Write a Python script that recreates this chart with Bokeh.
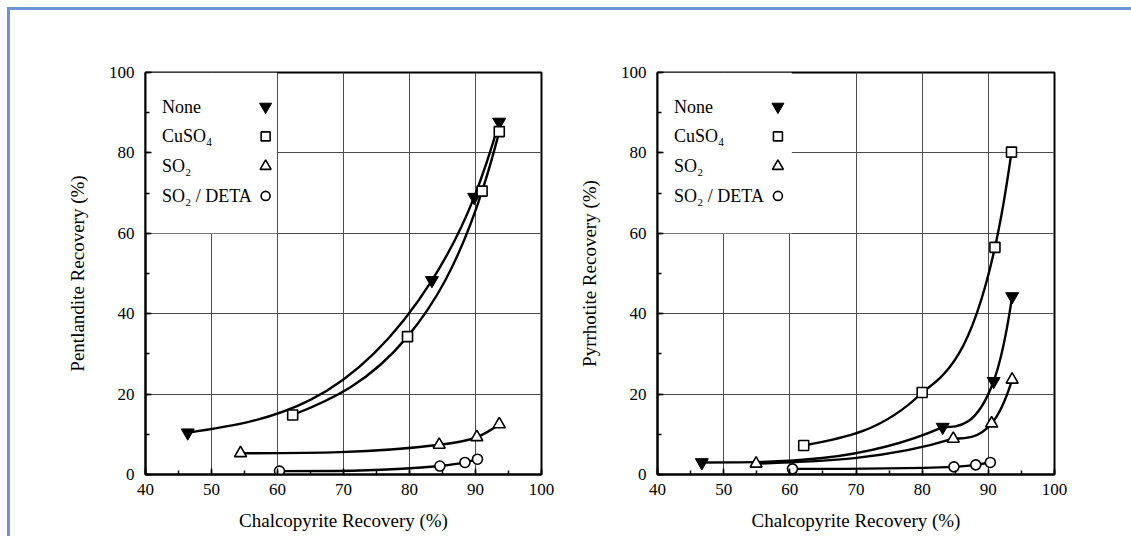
import math
from bokeh.plotting import figure
from bokeh.models import Range1d, SingleIntervalTicker, Row
from bokeh.core.properties import value
from bokeh.embed import file_html
from bokeh.resources import INLINE

# ---------------- data ----------------
series_names = ["None", "CuSO₄", "SO₂", "SO₂ / DETA"]
series_markers = ["inverted_triangle", "square", "triangle", "circle"]

# Pentlandite (left panel)
pn_none_x = [46.4, 83.4, 89.8, 93.6]
pn_none_y = [10.4, 48.3, 69.0, 87.7]
pn_cu_x = [62.3, 79.7, 91.0, 93.6]
pn_cu_y = [14.8, 34.3, 70.5, 85.3]
pn_so2_x = [54.4, 84.5, 90.2, 93.6]
pn_so2_y = [5.3, 7.4, 9.3, 12.5]
pn_deta_x = [60.3, 84.6, 88.4, 90.3]
pn_deta_y = [0.85, 2.1, 3.0, 3.8]

# Pyrrhotite (right panel)
po_none_x = [46.7, 83.1, 90.8, 93.6]
po_none_y = [3.0, 11.8, 23.2, 44.3]
po_cu_x = [62.1, 80.0, 91.0, 93.5]
po_cu_y = [7.2, 20.4, 56.5, 80.2]
po_so2_x = [54.9, 84.7, 90.5, 93.6]
po_so2_y = [2.7, 8.9, 12.7, 23.6]
po_deta_x = [60.4, 84.8, 88.1, 90.3]
po_deta_y = [1.4, 1.9, 2.4, 3.0]

x_label = "Chalcopyrite Recovery (%)"
y_label_left = "Pentlandite Recovery (%)"
y_label_right = "Pyrrhotite Recovery (%)"

SERIF = "Liberation Serif"


def smooth_segments(xs, ys):
    """Cubic Bezier pieces through the data points (only the drawn line's shape)."""
    n = len(xs)
    ly = [math.log(v) for v in ys]
    h = [xs[i + 1] - xs[i] for i in range(n - 1)]
    d = [(ys[i + 1] - ys[i]) / h[i] for i in range(n - 1)]
    dl = [(ly[i + 1] - ly[i]) / h[i] for i in range(n - 1)]
    ml = [0.0] * n
    for i in range(1, n - 1):
        ml[i] = (h[i] * dl[i - 1] + h[i - 1] * dl[i]) / (h[i - 1] + h[i])
    ml[0] = (3 * dl[0] - ml[1]) / 2
    ml[-1] = (3 * dl[-1] - ml[-2]) / 2
    m = [ml[i] * ys[i] for i in range(n)]
    m[0] = max(m[0], 0.2 * d[0])
    m[-1] = max(m[-1], d[-1])
    seg = dict(x0=[], y0=[], x1=[], y1=[], cx0=[], cy0=[], cx1=[], cy1=[])
    for i in range(n - 1):
        a, b = m[i], m[i + 1]
        if 2 * a + b > 3 * d[i]:
            a = max((3 * d[i] - b) / 2, 0.0)
            if 2 * a + b > 3 * d[i]:
                b = 3 * d[i] - 2 * a
        seg["x0"].append(xs[i]); seg["y0"].append(ys[i])
        seg["x1"].append(xs[i + 1]); seg["y1"].append(ys[i + 1])
        seg["cx0"].append(xs[i] + h[i] / 3); seg["cy0"].append(ys[i] + a * h[i] / 3)
        seg["cx1"].append(xs[i + 1] - h[i] / 3); seg["cy1"].append(ys[i + 1] - b * h[i] / 3)
    return seg


def marker_style(marker):
    if marker == "inverted_triangle":
        return dict(size=13, fill_color="black", line_color="black", line_width=1)
    if marker == "triangle":
        return dict(size=12, fill_color="white", line_color="black", line_width=1.6)
    return dict(size=10, fill_color="white", line_color="black", line_width=1.6)


def make_panel(series, ylabel, mask_right, border_left, border_right, frame_w):
    p = figure(frame_width=frame_w, frame_height=402,
               min_border_left=border_left, min_border_right=border_right,
               min_border_top=62, min_border_bottom=62,
               x_range=Range1d(40, 100), y_range=Range1d(0, 100),
               output_backend="svg", toolbar_location=None,
               background_fill_color="white", border_fill_color="white")
    p.outline_line_color = "black"
    p.outline_line_width = 2

    p.xaxis.ticker = SingleIntervalTicker(interval=10, num_minor_ticks=2)
    p.yaxis.ticker = SingleIntervalTicker(interval=20, num_minor_ticks=2)
    for ax in (p.xaxis[0], p.yaxis[0]):
        ax.axis_line_color = "black"
        ax.axis_line_width = 2
        ax.major_tick_in = 6
        ax.major_tick_out = 0
        ax.minor_tick_in = 4
        ax.minor_tick_out = 0
        ax.major_tick_line_color = "black"
        ax.major_tick_line_width = 1.5
        ax.minor_tick_line_color = "black"
        ax.minor_tick_line_width = 1.5
        ax.major_label_text_font = SERIF
        ax.major_label_text_font_size = "17px"
        ax.major_label_text_color = "black"
        ax.axis_label_text_font = SERIF
        ax.axis_label_text_font_size = "19px"
        ax.axis_label_text_font_style = "normal"
        ax.axis_label_text_color = "black"
    p.xaxis.axis_label = x_label
    p.yaxis.axis_label = ylabel
    p.xaxis.major_label_standoff = 9
    p.xaxis.axis_label_standoff = 12
    p.yaxis.major_label_standoff = 11
    p.yaxis.axis_label_standoff = 18

    p.grid.grid_line_color = "#4d4d4d"
    p.grid.grid_line_width = 1

    # white key box hiding the grid behind the key
    p.quad(left=[40], right=[mask_right], bottom=[60], top=[100],
           fill_color="white", line_color=None)

    for (xs, ys), marker in zip(series, series_markers):
        seg = smooth_segments(xs, ys)
        p.bezier(x0=seg["x0"], y0=seg["y0"], x1=seg["x1"], y1=seg["y1"],
                 cx0=seg["cx0"], cy0=seg["cy0"], cx1=seg["cx1"], cy1=seg["cy1"],
                 line_color="black", line_width=2.4)
    for (xs, ys), marker in zip(series, series_markers):
        p.scatter(xs, ys, marker=marker, **marker_style(marker))

    # key: label on the left, symbol on the right
    key_y = [91.5 - 7.4 * i for i in range(len(series_names))]
    p.text(x=[42.5] * len(series_names), y=key_y, text=series_names,
           text_font=value(SERIF), text_font_size="18px",
           text_baseline="middle", text_align="left", text_color="black")
    for yy, marker in zip(key_y, series_markers):
        st = marker_style(marker)
        st["size"] = st["size"] - 1
        p.scatter([58.2], [yy], marker=marker, **st)
    return p


left = make_panel([(pn_none_x, pn_none_y), (pn_cu_x, pn_cu_y),
                   (pn_so2_x, pn_so2_y), (pn_deta_x, pn_deta_y)],
                  y_label_left, 59.9, 135, 34, 396)
right = make_panel([(po_none_x, po_none_y), (po_cu_x, po_cu_y),
                    (po_so2_x, po_so2_y), (po_deta_x, po_deta_y)],
                   y_label_right, 60.3, 80, 77, 397)

layout = Row(children=[left, right],
             styles={"margin-top": "7px", "margin-left": "7px",
                     "border-top": "3px solid #6f94d6",
                     "border-left": "3px solid #6f94d6"})

open("out.html", "w").write(file_html(layout, INLINE))
